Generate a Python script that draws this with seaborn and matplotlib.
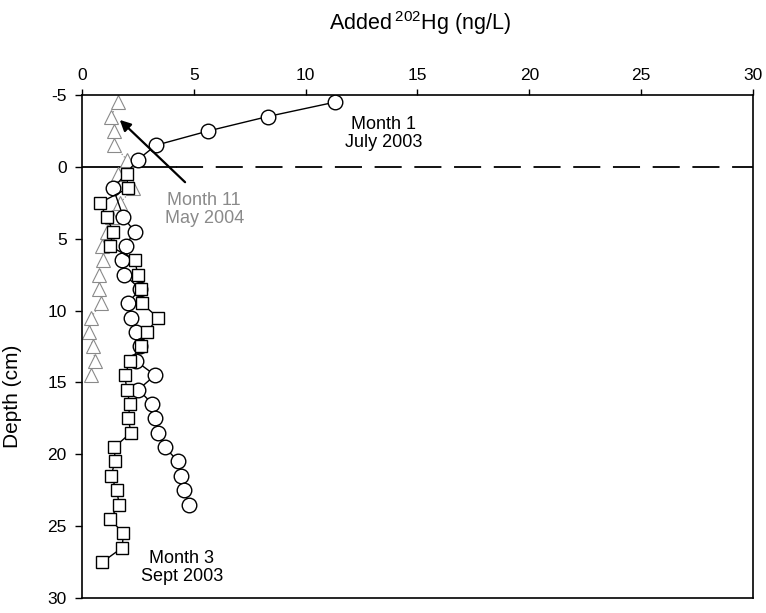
import matplotlib
matplotlib.use("Agg")
import matplotlib.pyplot as plt
import seaborn as sns
import pandas as pd

# Month 1 (July 2003) profile: depth (cm) and added 202Hg (ng/L)
m1_depth = [-4.5, -3.5, -2.5, -1.5, -0.5, 1.5, 3.5, 4.5, 5.5, 6.5, 7.5, 8.5, 9.5,
            10.5, 11.5, 12.5, 13.5, 14.5, 15.5, 16.5, 17.5, 18.5, 19.5, 20.5,
            21.5, 22.5, 23.5]
m1_hg = [11.3, 8.3, 5.65, 3.3, 2.5, 1.4, 1.85, 2.35, 1.95, 1.8, 1.9, 2.6, 2.05,
         2.2, 2.4, 2.6, 2.4, 3.27, 2.52, 3.15, 3.28, 3.42, 3.7, 4.3, 4.43,
         4.58, 4.78]

# Month 3 (Sept 2003) profile
m3_depth = [0.5, 1.5, 2.5, 3.5, 4.5, 5.5, 6.5, 7.5, 8.5, 9.5, 10.5, 11.5, 12.5,
            13.5, 14.5, 15.5, 16.5, 17.5, 18.5, 19.5, 20.5, 21.5, 22.5, 23.5,
            24.5, 25.5, 26.5, 27.5]
m3_hg = [2.0, 2.05, 0.8, 1.1, 1.4, 1.25, 2.37, 2.49, 2.64, 2.67, 3.41, 2.89,
         2.64, 2.15, 1.92, 2.0, 2.15, 2.07, 2.19, 1.45, 1.48, 1.3, 1.55, 1.67,
         1.25, 1.85, 1.8, 0.91]

# Month 11 (May 2004) profile
m11_depth = [-4.5, -3.5, -2.5, -1.5, -0.5, 0.5, 1.5, 2.5, 3.5, 4.5, 5.5, 6.5,
             7.5, 8.5, 9.5, 10.5, 11.5, 12.5, 13.5, 14.5]
m11_hg = [1.6, 1.3, 1.45, 1.45, 2.0, 1.62, 2.3, 1.7, 1.33, 1.1, 0.9, 0.95,
          0.78, 0.77, 0.85, 0.4, 0.32, 0.5, 0.58, 0.4]

x_ticks = [0, 5, 10, 15, 20, 25, 30]
y_ticks = [-5, 0, 5, 10, 15, 20, 25, 30]

sns.set_theme(style="ticks")
plt.rcParams["font.family"] = ["Liberation Sans", "DejaVu Sans"]
plt.rcParams["axes.unicode_minus"] = False
plt.rcParams["mathtext.fontset"] = "custom"
plt.rcParams["mathtext.rm"] = "Liberation Sans"

fig = plt.figure(figsize=(7.66, 6.13), dpi=100)
ax = fig.add_axes([0.107, 0.0245, 0.876, 0.8205])

gray = "#8a8a8a"

df11 = pd.DataFrame({"hg": m11_hg, "depth": m11_depth})
sns.lineplot(data=df11, x="hg", y="depth", sort=False, estimator=None, ax=ax,
             color=gray, lw=0.9, linestyle=":", marker="^", markersize=9.5,
             markerfacecolor="white", markeredgecolor=gray, markeredgewidth=0.8,
             zorder=2)

df1 = pd.DataFrame({"hg": m1_hg, "depth": m1_depth})
sns.lineplot(data=df1, x="hg", y="depth", sort=False, estimator=None, ax=ax,
             color="black", lw=1.0, marker="o", markersize=10.5,
             markerfacecolor="white", markeredgecolor="black",
             markeredgewidth=1.0, zorder=3)

df3 = pd.DataFrame({"hg": m3_hg, "depth": m3_depth})
sns.lineplot(data=df3, x="hg", y="depth", sort=False, estimator=None, ax=ax,
             color="black", lw=1.0, marker="s", markersize=9,
             markerfacecolor="white", markeredgecolor="black",
             markeredgewidth=1.0, zorder=4)

# sediment-water interface
ax.plot([0, 4.2], [0, 0], color="black", lw=1.3, zorder=1)
ax.plot([4.2, 30], [0, 0], color="black", lw=1.3, zorder=1,
        dashes=(15, 7))

ax.set_xlim(0, 30)
ax.set_ylim(30, -5)
ax.set_xticks(x_ticks)
ax.set_yticks(y_ticks)
ax.xaxis.tick_top()
ax.xaxis.set_label_position("top")
ax.tick_params(axis="x", direction="out", length=4, width=1, pad=5,
               labelsize=12.5, colors="black")
ax.tick_params(axis="y", direction="out", length=5, width=1, pad=6,
               labelsize=12.5, colors="black")
for s in ax.spines.values():
    s.set_visible(True)
    s.set_linewidth(1.2)
    s.set_color("black")

ax.set_xlabel("Added$\\,^{\\mathregular{202}}$Hg (ng/L)", fontsize=15.5,
              color="black")
ax.set_ylabel("Depth (cm)", fontsize=15, color="black")
ax.xaxis.set_label_coords(0.504, 1.13)
ax.yaxis.set_label_coords(-0.089, 0.40)

ax.text(13.5, -2.3, "Month 1\nJuly 2003", ha="center", va="center",
        fontsize=13, linespacing=1.05, color="black")
ax.text(5.47, 2.95, "Month 11\nMay 2004", ha="center", va="center",
        fontsize=13, linespacing=1.05, color=gray)
ax.text(4.46, 27.9, "Month 3\nSept 2003", ha="center", va="center",
        fontsize=13, linespacing=1.05, color="black")
ax.annotate("", xy=(1.6, -3.4), xytext=(4.7, 1.2),
            arrowprops=dict(arrowstyle="-|>", color="black", lw=1.6,
                            mutation_scale=16), zorder=5)

fig.savefig("out.png", dpi=100)
